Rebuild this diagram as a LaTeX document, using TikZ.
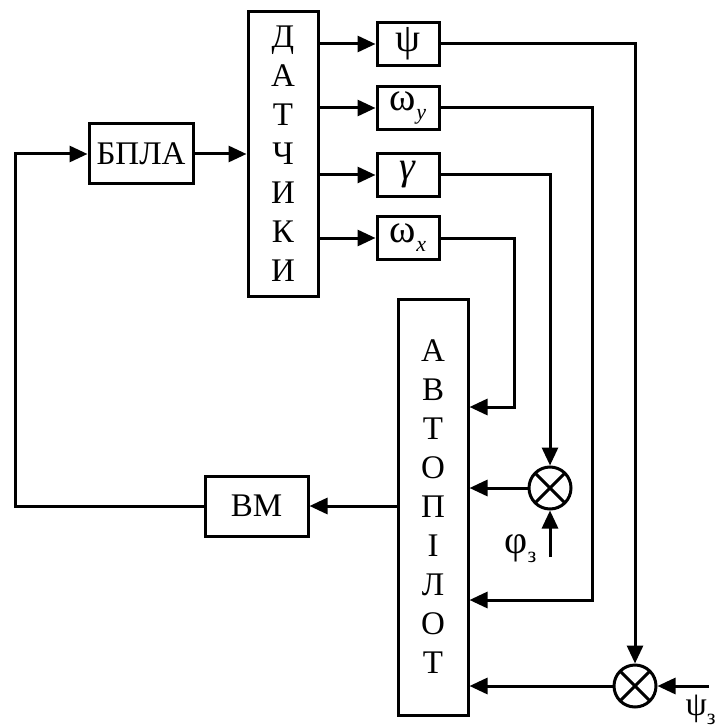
\documentclass[tikz,border=0pt]{standalone}
\usepackage{fontspec}
\setmainfont{Liberation Serif}
\usetikzlibrary{positioning, arrows.meta, calc}

% larger greek letters and lowered index for signal names
\newcommand{\grk}[1]{{\fontsize{20}{24}\selectfont #1}}
\newcommand{\lowidx}[1]{\raisebox{-0.6ex}{\fontsize{11}{13}\selectfont #1}}

\begin{document}
\begin{tikzpicture}[
    x=0.5pt, y=-0.5pt,
    >={Triangle[length=9pt, width=8pt]},
    line width=1.5pt,
    font=\fontsize{16.5}{19.5}\selectfont,
    blk/.style={draw, rectangle, line width=1.5pt, inner sep=0pt, align=center},
    tall/.style={blk, minimum width=35pt, minimum height=142pt},
    sig/.style={blk, minimum width=31pt, minimum height=21.5pt},
    sum/.style={draw, circle, minimum size=21pt, inner sep=0pt, path picture={
        \draw (path picture bounding box.north west) -- (path picture bounding box.south east)
              (path picture bounding box.north east) -- (path picture bounding box.south west);}},
    arr/.style={->},
]
\useasboundingbox (0,0) rectangle (718,727);

% === Plant and sensors ===
\node[blk, minimum width=52pt, minimum height=30pt] (uav) at (141,154) {БПЛА};
\node[tall] (sens) at (283,154) {Д\\А\\Т\\Ч\\И\\К\\И};

% --- Measured signals ---
\node[sig] (psi) at (408,44) {\grk{ψ}};
\node[sig] (wy) at (408,108) {\grk{ω}\lowidx{\textit{y}}};
\node[sig] (gam) at (408,175) {\grk{\textit{γ}}};
\node[sig] (wx) at (408,238) {\grk{ω}\lowidx{\textit{x}}};

% === Autopilot and actuator ===
\node[tall, minimum height=208pt] (auto) at (433,507) {А\\В\\Т\\О\\П\\І\\Л\\О\\Т};
\node[blk, minimum width=51.5pt, minimum height=30pt] (vm) at (256.5,506) {ВМ};

% --- Summing junctions ---
\node[sum] (s1) at (550,488) {};
\node[sum] (s2) at (635,686) {};
\coordinate (phiin) at (550,557);
\coordinate (psiin) at (709,686);
\node[anchor=west, inner sep=0pt] (phil) at (503,549) {\grk{φ}\lowidx{з}};
\node[anchor=south west, inner sep=0pt] (psil) at (684,726)
    {{\fontsize{17}{20}\selectfont ψ}\lowidx{з}};

% --- Bends ---
\coordinate (wyc) at (592,600);
\coordinate (wxc) at (514,407);
\coordinate (fb) at (15,506);

% === Connections ===
\draw[arr] (uav) -- (sens);
\foreach \n in {psi,wy,gam,wx}
    \draw[arr] (sens.east |- \n) -- (\n);

\draw[arr] (psi) -| (s2);
\draw[arr] (wy) -| (wyc) -- (auto.east |- wyc);
\draw[arr] (gam) -| (s1);
\draw[arr] (wx) -| (wxc) -- (auto.east |- wxc);

\draw[arr] (s1) -- (auto.east |- s1);
\draw[arr] (phiin) -- (s1);
\draw[arr] (s2) -- (auto.east |- s2);
\draw[arr] (psiin) -- (s2);

\draw[arr] (auto.west |- vm) -- (vm);
\draw[arr] (vm) -- (fb) |- (uav);

\end{tikzpicture}
\end{document}
